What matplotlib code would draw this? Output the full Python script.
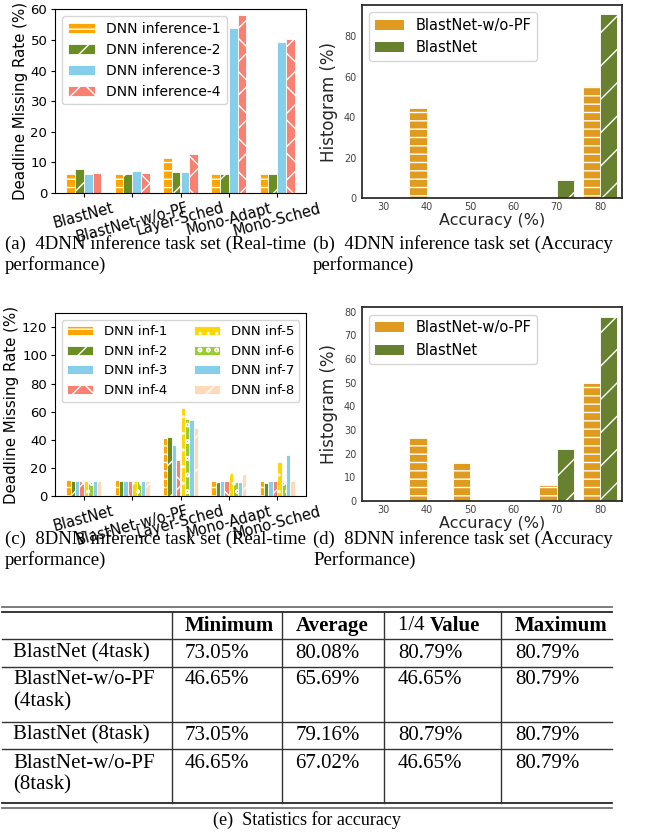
import matplotlib
matplotlib.use("Agg")
import matplotlib.pyplot as plt
import numpy as np
from matplotlib.patches import Patch

# ---------------- data ----------------
methods = ["BlastNet", "BlastNet-w/o-PF", "Layer-Sched", "Mono-Adapt", "Mono-Sched"]

dnn4_labels = ["DNN inference-1", "DNN inference-2", "DNN inference-3", "DNN inference-4"]
dnn4_inf1 = [6.3, 6.3, 11.4, 6.3, 6.3]
dnn4_inf2 = [7.8, 6.3, 7.0, 6.3, 6.3]
dnn4_inf3 = [6.3, 7.1, 7.0, 53.8, 49.5]
dnn4_inf4 = [6.5, 6.5, 12.6, 58.3, 50.4]

dnn8_labels = ["DNN inf-1", "DNN inf-2", "DNN inf-3", "DNN inf-4",
               "DNN inf-5", "DNN inf-6", "DNN inf-7", "DNN inf-8"]
dnn8_inf1 = [11.3, 11.3, 41.3, 10.7, 10.7]
dnn8_inf2 = [10.5, 11.0, 42.0, 10.0, 9.5]
dnn8_inf3 = [11.0, 10.7, 36.0, 10.7, 10.7]
dnn8_inf4 = [10.5, 10.7, 25.6, 10.7, 10.7]
dnn8_inf5 = [11.0, 10.7, 62.4, 16.1, 24.4]
dnn8_inf6 = [11.0, 11.0, 55.0, 10.2, 10.2]
dnn8_inf7 = [10.5, 10.7, 53.8, 10.2, 29.2]
dnn8_inf8 = [10.5, 10.7, 48.6, 15.6, 10.7]

acc_bins = ["30", "40", "50", "60", "70", "80"]
hist_labels = ["BlastNet-w/o-PF", "BlastNet"]
hist4_wopf = [0, 44.4, 0, 0, 0, 55.6]
hist4_blast = [0, 0, 0, 0, 9.1, 90.9]
hist8_wopf = [0, 26.6, 16.1, 0.6, 6.7, 50.0]
hist8_blast = [0, 0, 0, 0, 22.0, 78.0]

table_cols = ["Minimum", "Average", "Value", "Maximum"]
table_rows = ["BlastNet (4task)", "BlastNet-w/o-PF\n(4task)",
              "BlastNet (8task)", "BlastNet-w/o-PF\n(8task)"]
tab_min = ["73.05%", "46.65%", "73.05%", "46.65%"]
tab_avg = ["80.08%", "65.69%", "79.16%", "67.02%"]
tab_q = ["80.79%", "46.65%", "80.79%", "46.65%"]
tab_max = ["80.79%", "80.79%", "80.79%", "80.79%"]

captions = [
    "(a)  4DNN inference task set (Real-time\nperformance)",
    "(b)  4DNN inference task set (Accuracy\nperformance)",
    "(c)  8DNN inference task set (Real-time\nperformance)",
    "(d)  8DNN inference task set (Accuracy\nPerformance)",
]
caption_e = "(e)  Statistics for accuracy"

# ---------------- styles ----------------
c4 = ["#FFA500", "#6B8E23", "#87CEEB", "#FA8072"]
h4 = ["--", "/", "", "x"]
c8 = ["#FFA500", "#6B8E23", "#87CEEB", "#FA8072", "#FFD700", "#9ACD32", "#87CEEB", "#FFDAB9"]
h8 = ["--", "/", "", "x", "..", "oo", "", "/"]
hc = ["#DF9B20", "#678130"]
hh = ["--", "/"]

W, H = 646, 833
fig = plt.figure(figsize=(W / 100, H / 100), dpi=100)

def rect(l, t, r, b):
    return [l / W, 1 - b / H, (r - l) / W, (b - t) / H]

axA = fig.add_axes(rect(55, 9.5, 306, 193))
axB = fig.add_axes(rect(361.7, 5, 621.7, 198.3))
axC = fig.add_axes(rect(55, 313.3, 306, 496))
axD = fig.add_axes(rect(361.7, 307.3, 621.7, 501))

def grouped(ax, series, labels, colors, hatches, width, ylim, yticks, lfs, ncol):
    x = np.arange(len(methods))
    n = len(series)
    for i, (vals, lab, col, hat) in enumerate(zip(series, labels, colors, hatches)):
        ax.bar(x + (i - (n - 1) / 2) * width, vals, width, color=col, hatch=hat,
               edgecolor="white", linewidth=0.6, label=lab)
    ax.set_xticks(x)
    ax.set_xticklabels(methods, rotation=15, fontsize=10.5)
    ax.set_ylim(*ylim)
    ax.set_yticks(yticks)
    ax.tick_params(length=3, pad=2.5)
    ax.tick_params(axis="y", labelsize=9.5)
    ax.set_ylabel("Deadline Missing Rate (%)", fontsize=10.8, labelpad=2)
    ax.legend(loc="upper left", fontsize=lfs, ncol=ncol)

grouped(axA, [dnn4_inf1, dnn4_inf2, dnn4_inf3, dnn4_inf4], dnn4_labels, c4, h4,
        0.18, (0, 60), range(0, 61, 10), 10, 1)
grouped(axC, [dnn8_inf1, dnn8_inf2, dnn8_inf3, dnn8_inf4, dnn8_inf5, dnn8_inf6,
              dnn8_inf7, dnn8_inf8], dnn8_labels, c8, h8,
        0.09, (0, 130), range(0, 121, 20), 9.5, 2)

def hist(ax, wopf, blast, yticks):
    x = np.arange(len(acc_bins))
    for i, vals in enumerate([wopf, blast]):
        ax.bar(x + (i - 0.5) * 0.4, vals, 0.4, color=hc[i], hatch=hh[i],
               edgecolor="white", linewidth=0.6)
    ax.set_xlim(-0.5, len(acc_bins) - 0.5)
    ax.set_xticks(x)
    ax.set_xticklabels(acc_bins)
    ax.set_yticks(yticks)
    ax.tick_params(length=0, labelsize=7, labelcolor="#444444", pad=4)
    ax.tick_params(axis="x", pad=3)
    for s in ax.spines.values():
        s.set_color("0.15")
        s.set_linewidth(1.25)
    ax.set_ylabel("Histogram (%)", fontsize=12, color="0.15")
    ax.set_xlabel("Accuracy (%)", fontsize=11.5, color="0.15", labelpad=0.5)
    handles = [Patch(facecolor=hc[0], label=hist_labels[0]),
               Patch(facecolor=hc[1], label=hist_labels[1])]
    ax.legend(handles=handles, loc="upper left", fontsize=10.5)

hist(axB, hist4_wopf, hist4_blast, range(0, 81, 20))
hist(axD, hist8_wopf, hist8_blast, range(0, 81, 10))

# ---------------- captions and table ----------------
ov = fig.add_axes([0, 0, 1, 1])
ov.set_xlim(0, W)
ov.set_ylim(H, 0)
ov.axis("off")
serif = "Liberation Serif"
cap_pos = [(5, 244), (313, 244), (5, 539), (313, 539)]
for (cx, cy), txt in zip(cap_pos, captions):
    for k, line in enumerate(txt.split("\n")):
        ov.text(cx, cy + 21 * k, line, fontsize=13.5, family=serif,
                va="center", ha="left")

# table rules
ov.plot([2, 612], [606.7, 606.7], color="0.45", lw=1.3)
ov.plot([2, 612], [612.3, 612.3], color="0.15", lw=1.3)
for yy in [639.3, 666.7, 721.7, 749]:
    ov.plot([2, 612], [yy, yy], color="0.2", lw=1.0)
ov.plot([2, 612], [802.7, 802.7], color="0.15", lw=1.3)
ov.plot([2, 612], [808.3, 808.3], color="0.45", lw=1.3)
for xx in [172.3, 282.3, 384, 501]:
    ov.plot([xx, xx], [612.3, 802.7], color="0.2", lw=1.0)

tfs = 15
col_x = [185, 295.5, 398, 515]
head_y = 626
ov.text(col_x[0], head_y, table_cols[0], fontsize=tfs, family=serif, weight="bold", va="center")
ov.text(col_x[1], head_y, table_cols[1], fontsize=tfs, family=serif, weight="bold", va="center")
t14 = ov.text(col_x[2], head_y, "1/4 ", fontsize=tfs, family=serif, va="center")
ov.annotate(table_cols[2], xycoords=t14, xy=(1, 0.5), va="center",
            fontsize=tfs, family=serif, weight="bold")
ov.text(col_x[3], head_y, table_cols[3], fontsize=tfs, family=serif, weight="bold", va="center")

row_y = [653, 680, 735, 763]
for i, ry in enumerate(row_y):
    for k, line in enumerate(table_rows[i].split("\n")):
        ov.text(13, ry + 21.7 * k, line, fontsize=tfs, family=serif, va="center")
    for cx, vals in zip(col_x, [tab_min, tab_avg, tab_q, tab_max]):
        ov.text(cx, ry, vals[i], fontsize=tfs, family=serif, va="center")

ov.text(307, 820, caption_e, fontsize=13, family=serif, va="center", ha="center")

fig.savefig("out.png", dpi=100)
